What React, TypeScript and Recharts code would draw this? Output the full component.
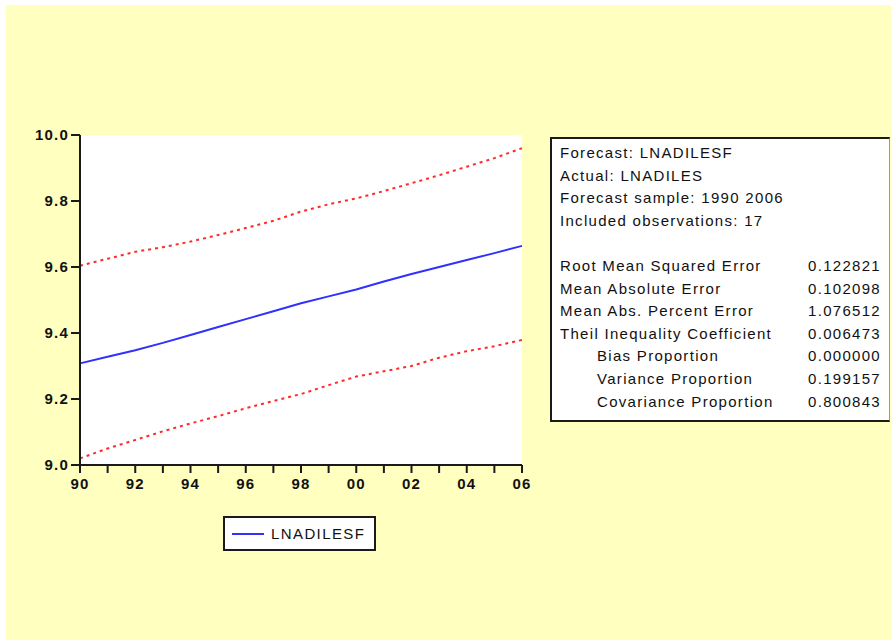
import React from 'react';
import { LineChart, Line, XAxis, YAxis, CartesianGrid, Legend } from 'recharts';

const years = [1990, 1991, 1992, 1993, 1994, 1995, 1996, 1997, 1998, 1999, 2000, 2001, 2002, 2003, 2004, 2005, 2006];
const forecast = [9.308, 9.328, 9.348, 9.37, 9.394, 9.418, 9.442, 9.466, 9.49, 9.511, 9.532, 9.556, 9.579, 9.6, 9.621, 9.642, 9.664];
const upperBand = [9.604, 9.625, 9.646, 9.66, 9.677, 9.697, 9.718, 9.74, 9.768, 9.79, 9.808, 9.83, 9.854, 9.878, 9.904, 9.93, 9.96];
const lowerBand = [9.02, 9.05, 9.076, 9.102, 9.126, 9.148, 9.172, 9.194, 9.215, 9.242, 9.268, 9.284, 9.3, 9.325, 9.345, 9.36, 9.379];
const yTicks = [9.0, 9.2, 9.4, 9.6, 9.8, 10.0];

const statsHeader = [
  'Forecast: LNADILESF',
  'Actual: LNADILES',
  'Forecast sample: 1990 2006',
  'Included observations: 17',
];
const statLabels = [
  'Root Mean Squared Error',
  'Mean Absolute Error',
  'Mean Abs. Percent Error',
  'Theil Inequality Coefficient',
  'Bias Proportion',
  'Variance Proportion',
  'Covariance Proportion',
];
const statValues = ['0.122821', '0.102098', '1.076512', '0.006473', '0.000000', '0.199157', '0.800843'];
const statIndent = [false, false, false, false, true, true, true];

const data = years.map((y, i) => ({
  year: y,
  f: forecast[i],
  up: upperBand[i],
  lo: lowerBand[i],
}));

const FONT = '"Liberation Sans", Arial, sans-serif';
const FRAME = '#1a1a1a';

const tickStyle = { fontSize: 15, fontWeight: 700, fill: '#111', fontFamily: FONT, letterSpacing: 1.2 };

const LegendBox = () => (
  <div
    style={{
      width: 149,
      height: 31,
      border: `2px solid ${FRAME}`,
      background: '#fff',
      display: 'flex',
      alignItems: 'center',
      boxSizing: 'content-box',
    }}
  >
    <div style={{ width: 32, height: 2, background: '#3030ff', marginLeft: 7, marginRight: 7 }} />
    <span style={{ fontSize: 15, letterSpacing: 1.4, color: '#111', fontFamily: FONT }}>LNADILESF</span>
  </div>
);

export default function App() {
  return (
    <div style={{ position: 'absolute', left: 0, top: 0, width: 891, height: 640, background: '#fff', fontFamily: FONT }}>
      <div style={{ position: 'absolute', left: 6, top: 5, width: 885, height: 635, background: '#FFFFC0' }} />
      <div style={{ position: 'absolute', left: 0, top: 0 }}>
        <LineChart width={891} height={640} data={data} margin={{ top: 135, right: 369, bottom: 145, left: 30 }}>
          <CartesianGrid fill="#ffffff" horizontal={false} vertical={false} />
          <XAxis
            dataKey="year"
            type="number"
            domain={[1990, 2006]}
            ticks={years}
            interval={0}
            tickFormatter={(v: number) => (v % 2 === 0 ? String(v % 100).padStart(2, '0') : '')}
            tick={tickStyle}
            tickSize={8}
            tickMargin={5}
            height={30}
            axisLine={{ stroke: FRAME, strokeWidth: 2 }}
            tickLine={{ stroke: FRAME, strokeWidth: 2 }}
          />
          <XAxis
            xAxisId="top"
            dataKey="year"
            type="number"
            domain={[1990, 2006]}
            orientation="top"
            height={0}
            tick={false}
            tickLine={false}
            axisLine={{ stroke: FRAME, strokeWidth: 2 }}
          />
          <YAxis
            type="number"
            domain={[9, 10]}
            ticks={yTicks}
            interval={0}
            tickFormatter={(v: number) => v.toFixed(1)}
            tick={tickStyle}
            tickSize={9}
            tickMargin={2}
            width={50}
            axisLine={{ stroke: FRAME, strokeWidth: 2 }}
            tickLine={{ stroke: FRAME, strokeWidth: 2 }}
          />
          <YAxis
            yAxisId="right"
            type="number"
            domain={[9, 10]}
            orientation="right"
            width={0}
            tick={false}
            tickLine={false}
            axisLine={{ stroke: FRAME, strokeWidth: 2 }}
          />
          <Line
            dataKey="up"
            stroke="#ff2a2a"
            strokeWidth={2}
            strokeDasharray="3 4"
            dot={false}
            legendType="none"
            isAnimationActive={false}
          />
          <Line
            dataKey="lo"
            stroke="#ff2a2a"
            strokeWidth={2}
            strokeDasharray="3 4"
            dot={false}
            legendType="none"
            isAnimationActive={false}
          />
          <Line
            dataKey="f"
            name="LNADILESF"
            stroke="#3030ff"
            strokeWidth={2}
            dot={false}
            isAnimationActive={false}
          />
          <Legend
            layout="horizontal"
            verticalAlign="middle"
            align="center"
            content={() => <LegendBox />}
            wrapperStyle={{ position: 'absolute', left: 223, top: 516, width: 153, height: 35 }}
          />
        </LineChart>
      </div>
      <div
        style={{
          position: 'absolute',
          left: 550,
          top: 137,
          width: 340,
          height: 285,
          background: '#fff',
          borderTop: `2px solid ${FRAME}`,
          borderLeft: `2px solid ${FRAME}`,
          borderBottom: `2px solid ${FRAME}`,
          borderRight: '1px solid #999',
          fontSize: 15,
          letterSpacing: 1.3,
          color: '#111',
          lineHeight: '22.6px',
          paddingTop: 3,
          boxSizing: 'border-box',
        }}
      >
        {statsHeader.map((t) => (
          <div key={t} style={{ paddingLeft: 8, whiteSpace: 'nowrap' }}>{t}</div>
        ))}
        <div style={{ height: 22.6 }} />
        {statLabels.map((t, i) => (
          <div key={t} style={{ position: 'relative', height: 22.6, whiteSpace: 'nowrap' }}>
            <span style={{ position: 'absolute', left: statIndent[i] ? 45 : 8 }}>{t}</span>
            <span style={{ position: 'absolute', right: 8 }}>{statValues[i]}</span>
          </div>
        ))}
      </div>
    </div>
  );
}
